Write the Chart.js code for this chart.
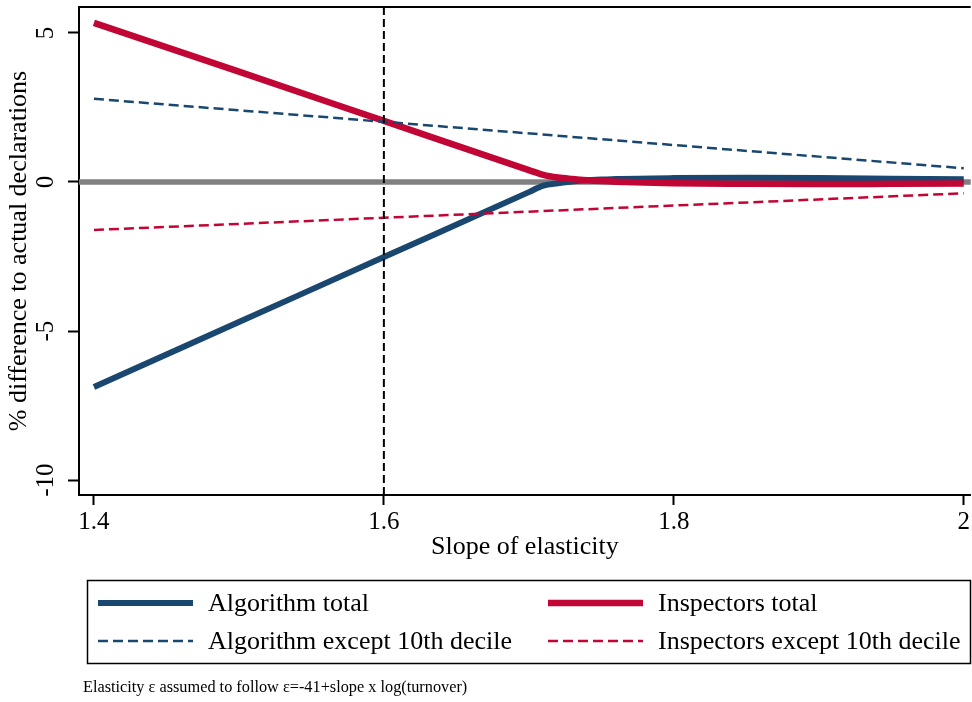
<!DOCTYPE html>
<html>
<head>
<meta charset="utf-8">
<script src="https://cdn.jsdelivr.net/npm/chart.js@4.4.1/dist/chart.umd.min.js"></script>
<style>
  html, body { margin: 0; padding: 0; background: #fff; }
  #wrap { width: 972px; height: 702px; }
</style>
</head>
<body>
<div id="wrap"><canvas id="graphic" width="972" height="702"></canvas></div>
<script>
// ==========================================================================
// DATA
// ==========================================================================
const slopes = [1.4, 1.5, 1.6, 1.7, 1.71, 1.72, 1.73, 1.74, 1.75, 1.76, 1.8, 1.85, 1.9, 1.95, 2.0];
const algorithmTotal = [-6.88, -4.70, -2.52, -0.34, -0.12, -0.04, 0.02, 0.06, 0.08, 0.10, 0.13, 0.14, 0.13, 0.11, 0.09];
const inspectorsTotal = [5.34, 3.70, 2.05, 0.40, 0.24, 0.15, 0.10, 0.06, 0.03, 0.01, -0.04, -0.06, -0.07, -0.06, -0.05];

const decileSlopes = [1.4, 1.6, 1.8, 2.0];
const algorithmExcept = [2.79, 2.02, 1.24, 0.46];
const inspectorsExcept = [-1.61, -1.20, -0.79, -0.38];

const seriesNames = ['Algorithm total', 'Inspectors total', 'Algorithm except 10th decile', 'Inspectors except 10th decile'];
const xTicks = [1.4, 1.6, 1.8, 2];
const yTicks = [-10, -5, 0, 5];
const refSlope = 1.6;
const xTitle = 'Slope of elasticity';
const yTitle = '% difference to actual declarations';
const note = 'Elasticity \u03b5 assumed to follow \u03b5=-41+slope x log(turnover)';

const NAVY = '#1a476f';
const RED = '#c10534';
const FONT = "'Liberation Serif', 'Times New Roman', serif";

const pts = (xs, ys) => xs.map((x, i) => ({ x: x, y: ys[i] }));

// ==========================================================================
// PLUGINS
// ==========================================================================
// zero line under the series
const zeroLine = {
  id: 'zeroLine',
  beforeDatasetsDraw(chart) {
    const { ctx, chartArea } = chart;
    const y = chart.scales.y.getPixelForValue(0);
    ctx.save();
    ctx.strokeStyle = '#808080';
    ctx.lineWidth = 5.5;
    ctx.beginPath();
    ctx.moveTo(chartArea.left, y);
    ctx.lineTo(chartArea.right, y);
    ctx.stroke();
    ctx.restore();
  }
};

// dashed vertical at the reference slope, top spine, rotated y labels
const frame = {
  id: 'frame',
  afterDatasetsDraw(chart) {
    const { ctx, chartArea } = chart;
    const x = chart.scales.x.getPixelForValue(refSlope);
    ctx.save();
    ctx.strokeStyle = '#000';
    ctx.lineWidth = 2;
    ctx.setLineDash([8, 4]);
    ctx.beginPath();
    ctx.moveTo(x, chartArea.top);
    ctx.lineTo(x, chartArea.bottom);
    ctx.stroke();
    ctx.restore();
  },
  afterDraw(chart) {
    const { ctx, chartArea } = chart;
    ctx.save();
    ctx.strokeStyle = '#000';
    ctx.lineWidth = 2;
    ctx.beginPath();
    ctx.moveTo(chartArea.left - 1, chartArea.top);
    ctx.lineTo(chartArea.right, chartArea.top);
    ctx.stroke();

    const ys = chart.scales.y;
    ctx.fillStyle = '#000';
    ctx.font = '25px ' + FONT;
    ctx.textAlign = 'center';
    ctx.textBaseline = 'middle';
    for (const t of ys.ticks) {
      ctx.save();
      ctx.translate(46, ys.getPixelForValue(t.value));
      ctx.rotate(-Math.PI / 2);
      ctx.fillText(String(t.value), 0, 0);
      ctx.restore();
    }
    ctx.restore();
  }
};

// boxed two-column legend and note below the axis
const boxLegend = {
  id: 'boxLegend',
  afterDraw(chart) {
    const { ctx } = chart;
    const sets = chart.data.datasets;
    ctx.save();
    ctx.strokeStyle = '#000';
    ctx.lineWidth = 1.5;
    ctx.strokeRect(87.5, 580.5, 883, 83);

    const cols = [98, 548];
    const rows = [603, 641];
    ctx.font = '26px ' + FONT;
    ctx.textBaseline = 'middle';
    ctx.textAlign = 'left';
    sets.forEach((ds, i) => {
      const cx = cols[i % 2];
      const cy = rows[Math.floor(i / 2)];
      ctx.save();
      ctx.strokeStyle = ds.borderColor;
      ctx.lineWidth = ds.borderWidth;
      ctx.setLineDash(ds.borderDash || []);
      ctx.beginPath();
      ctx.moveTo(cx, cy);
      ctx.lineTo(cx + 95, cy);
      ctx.stroke();
      ctx.restore();
      ctx.fillStyle = '#000';
      ctx.fillText(ds.label, cx + 110, cy + 1);
    });

    ctx.font = '16.3px ' + FONT;
    ctx.fillText(note, 83, 688);
    ctx.restore();
  }
};

// ==========================================================================
// GRAPHIC
// ==========================================================================
let ctx = document.getElementById('graphic').getContext('2d');
let myChart = new Chart(ctx, {
  type: 'line',
  data: {
    datasets: [
      {
        label: seriesNames[0],
        data: pts(slopes, algorithmTotal),
        borderColor: NAVY,
        borderWidth: 6,
        cubicInterpolationMode: 'monotone',
        order: 4
      },
      {
        label: seriesNames[1],
        data: pts(slopes, inspectorsTotal),
        borderColor: RED,
        borderWidth: 6.5,
        cubicInterpolationMode: 'monotone',
        order: 3
      },
      {
        label: seriesNames[2],
        data: pts(decileSlopes, algorithmExcept),
        borderColor: NAVY,
        borderWidth: 2.5,
        borderDash: [10, 5],
        order: 2
      },
      {
        label: seriesNames[3],
        data: pts(decileSlopes, inspectorsExcept),
        borderColor: RED,
        borderWidth: 2.5,
        borderDash: [10, 5],
        order: 1
      }
    ]
  },
  options: {
    responsive: false,
    animation: false,
    elements: {
      point: { radius: 0 },
      line: { borderCapStyle: 'butt', borderJoinStyle: 'round', fill: false }
    },
    layout: { padding: { left: 0, top: 7, right: 0, bottom: 137 } },
    plugins: {
      legend: { display: false },
      tooltip: { enabled: false }
    },
    scales: {
      x: {
        type: 'linear',
        min: 1.3897,
        max: 2.0048,
        afterBuildTicks: s => { s.ticks = xTicks.map(v => ({ value: v })); },
        afterFit: s => { s.height = 70; },
        grid: {
          drawOnChartArea: false,
          drawTicks: true,
          tickLength: 10,
          tickWidth: 2,
          tickColor: '#000'
        },
        border: { display: true, color: '#000', width: 2 },
        ticks: {
          color: '#000',
          font: { family: FONT, size: 25 },
          padding: 2,
          maxRotation: 0,
          callback: v => String(v)
        },
        title: {
          display: true,
          text: xTitle,
          color: '#000',
          font: { family: FONT, size: 26 },
          padding: { top: 0, bottom: 2 }
        }
      },
      y: {
        type: 'linear',
        min: -10.5,
        max: 5.87,
        afterBuildTicks: s => { s.ticks = yTicks.map(v => ({ value: v })); },
        afterFit: s => { s.width = 79; },
        grid: {
          drawOnChartArea: false,
          drawTicks: true,
          tickLength: 11,
          tickWidth: 2,
          tickColor: '#000'
        },
        border: { display: true, color: '#000', width: 2 },
        ticks: { display: false },
        title: {
          display: true,
          text: yTitle,
          color: '#000',
          font: { family: FONT, size: 26 },
          padding: { top: 4, bottom: 0 }
        }
      }
    }
  },
  plugins: [zeroLine, frame, boxLegend]
});
</script>
</body>
</html>
